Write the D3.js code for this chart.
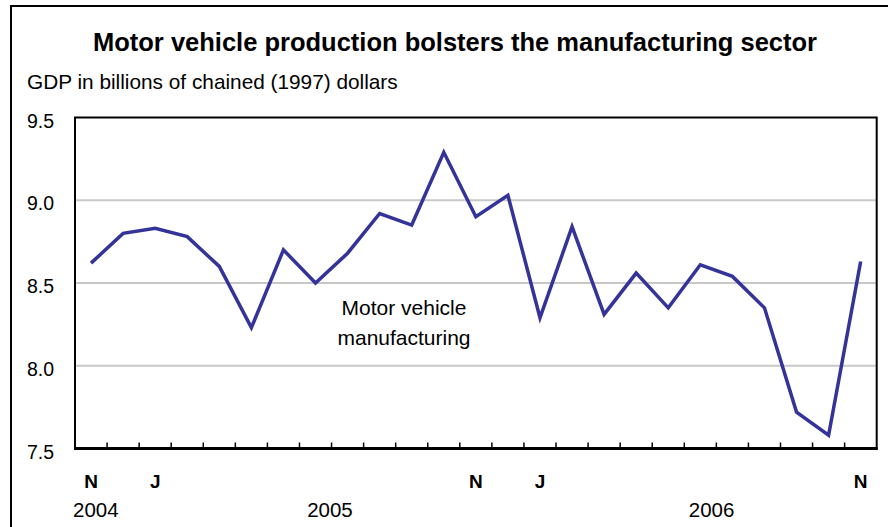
<!DOCTYPE html>
<html>
<head>
<meta charset="utf-8">
<script src="https://cdn.jsdelivr.net/npm/d3@7"></script>
<style>
  body { margin: 0; background: #fff; }
  text { font-family: "Liberation Sans", Arial, sans-serif; fill: #000; }
</style>
</head>
<body>
<div id="chart"></div>
<script>
// months Nov 2004 .. Nov 2006
var months = ["2004-11","2004-12","2005-01","2005-02","2005-03","2005-04","2005-05","2005-06",
  "2005-07","2005-08","2005-09","2005-10","2005-11","2005-12","2006-01","2006-02","2006-03",
  "2006-04","2006-05","2006-06","2006-07","2006-08","2006-09","2006-10","2006-11"];
var gdp = [8.62, 8.80, 8.83, 8.78, 8.60, 8.23, 8.70, 8.50, 8.68, 8.92, 8.85, 9.29, 8.90,
  9.03, 8.29, 8.84, 8.31, 8.56, 8.35, 8.61, 8.54, 8.35, 7.72, 7.58, 8.63];
var monthTicks = ["2004-11","2005-01","2005-11","2006-01","2006-11"];
var monthTickLabels = ["N","J","N","J","N"];
var yTicks = [7.5, 8.0, 8.5, 9.0, 9.5];
// year labels, placed in months counted from Nov 2004
var years = ["2004","2005","2006"];
var yearAt = [0.15, 7.45, 19.35];

var W = 888, H = 527;
var margin = {top: 117.5, right: 11.3, bottom: 78.5, left: 75};

var svg = d3.select("#chart").append("svg")
    .attr("width", W)
    .attr("height", H);

// outer frame (left + top edges)
svg.append("path")
    .attr("d", "M11," + H + "V6H" + W)
    .attr("fill", "none")
    .attr("stroke", "#000")
    .attr("stroke-width", 2);

var x = d3.scaleBand()
    .domain(months)
    .range([margin.left, W - margin.right])
    .padding(0);
var y = d3.scaleLinear()
    .domain([7.5, 9.5])
    .range([H - margin.bottom, margin.top]);
var xi = d3.scaleLinear()
    .domain([0, months.length - 1])
    .range([x(months[0]) + x.bandwidth() / 2, x(months[months.length - 1]) + x.bandwidth() / 2]);

// title
svg.append("text")
    .attr("x", 455)
    .attr("y", 51)
    .attr("text-anchor", "middle")
    .style("font-size", "25.5px")
    .style("font-weight", "bold")
    .text("Motor vehicle production bolsters the manufacturing sector");

svg.append("text")
    .attr("x", 27)
    .attr("y", 89)
    .style("font-size", "20.8px")
    .text("GDP in billions of chained (1997) dollars");

// gridlines
svg.append("g")
    .selectAll("line")
    .data(yTicks.filter(function(d) { return d > 7.5 && d < 9.5; }))
    .enter().append("line")
    .attr("x1", margin.left)
    .attr("x2", W - margin.right)
    .attr("y1", function(d) { return y(d); })
    .attr("y2", function(d) { return y(d); })
    .attr("stroke", "#c8c8c8")
    .attr("stroke-width", 2);

// y labels
svg.append("g")
    .selectAll("text")
    .data(yTicks)
    .enter().append("text")
    .attr("x", 54)
    .attr("y", function(d) { return y(d) + 10; })
    .attr("text-anchor", "end")
    .style("font-size", "19.5px")
    .text(function(d) { return d3.format(".1f")(d); });

// plot frame
svg.append("rect")
    .attr("x", margin.left)
    .attr("y", margin.top)
    .attr("width", W - margin.right - margin.left)
    .attr("height", H - margin.bottom - margin.top)
    .attr("fill", "none")
    .attr("stroke", "#000")
    .attr("stroke-width", 2);

// inner ticks at month boundaries
svg.append("g")
    .selectAll("line")
    .data(months.slice(1))
    .enter().append("line")
    .attr("x1", function(d) { return x(d); })
    .attr("x2", function(d) { return x(d); })
    .attr("y1", y(7.5))
    .attr("y2", y(7.5) - 6)
    .attr("stroke", "#000")
    .attr("stroke-width", 1.5);

svg.append("line")
    .attr("x1", margin.left - 1)
    .attr("x2", W - margin.right + 1)
    .attr("y1", y(7.5))
    .attr("y2", y(7.5))
    .attr("stroke", "#000")
    .attr("stroke-width", 3);

// month letters
var xAxis = svg.append("g")
    .attr("transform", "translate(0," + (y(7.5)) + ")")
    .call(d3.axisBottom(x)
        .tickValues(monthTicks)
        .tickSize(0)
        .tickFormat(function(d) { return monthTickLabels[monthTicks.indexOf(d)]; }));
xAxis.select(".domain").remove();
xAxis.selectAll("text")
    .attr("dy", null)
    .attr("y", 39)
    .style("font-size", "19px")
    .style("font-weight", "bold")
    .style("font-family", "'Liberation Sans', Arial, sans-serif")
    .attr("fill", "#000");

// years
svg.append("g")
    .selectAll("text")
    .data(years)
    .enter().append("text")
    .attr("x", function(d, i) { return xi(yearAt[i]); })
    .attr("y", 517)
    .attr("text-anchor", "middle")
    .style("font-size", "20.5px")
    .text(function(d) { return d; });

// series line
var line = d3.line()
    .x(function(d, i) { return x(months[i]) + x.bandwidth() / 2; })
    .y(function(d) { return y(d); });
svg.append("path")
    .datum(gdp)
    .attr("d", line)
    .attr("fill", "none")
    .attr("stroke", "#333399")
    .attr("stroke-width", 3.5)
    .attr("stroke-linejoin", "miter");

// annotation
var note = svg.append("text")
    .attr("text-anchor", "middle")
    .style("font-size", "21px");
note.append("tspan").attr("x", 404).attr("y", 315).text("Motor vehicle");
note.append("tspan").attr("x", 404).attr("y", 345).text("manufacturing");
</script>
</body>
</html>
